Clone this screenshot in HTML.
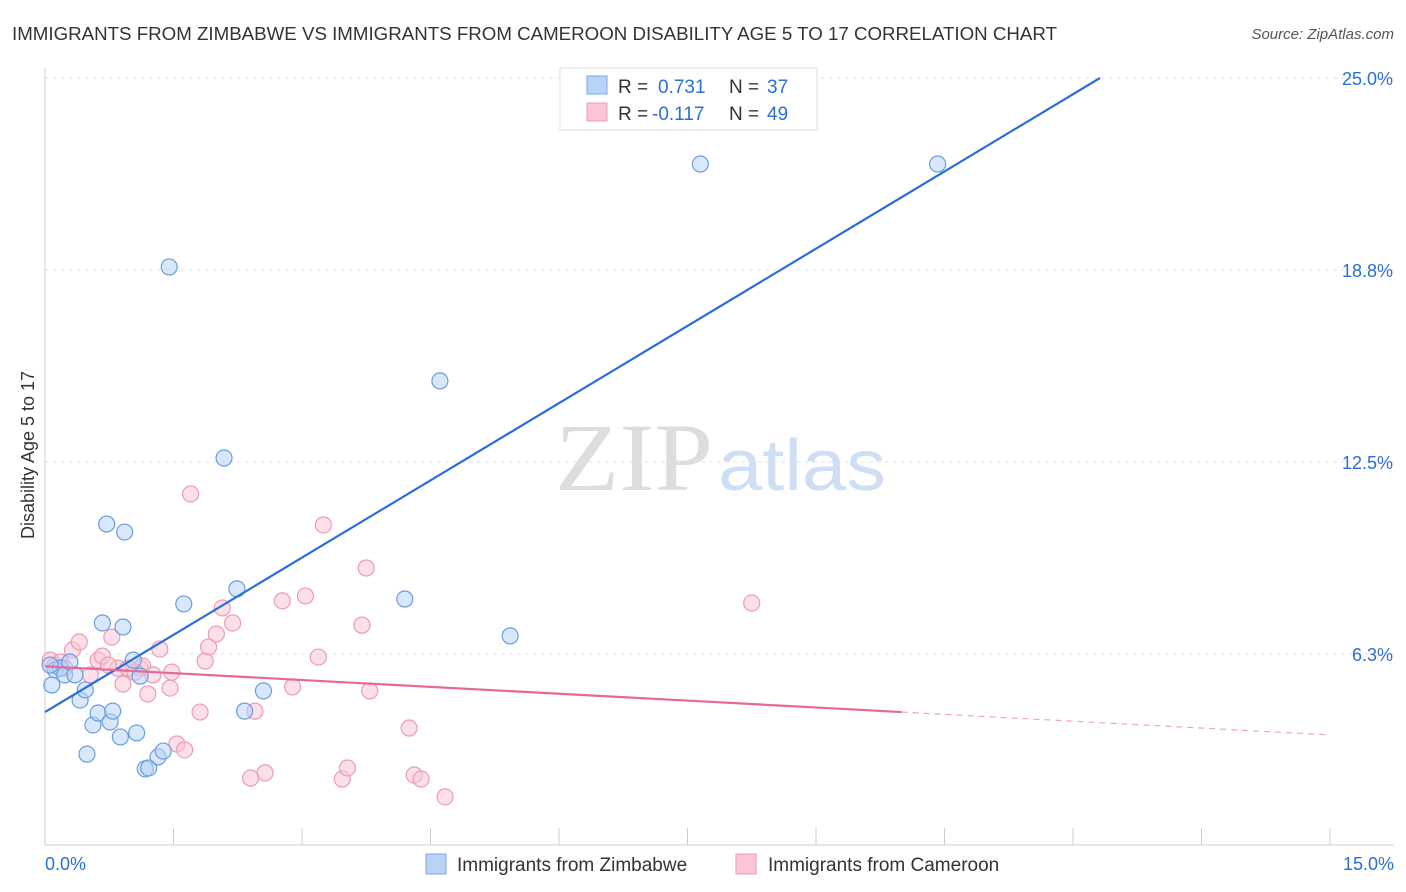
<!DOCTYPE html>
<html><head><meta charset="utf-8">
<style>
body{margin:0;background:#fff;font-family:"Liberation Sans",sans-serif;}
svg{display:block}
</style></head>
<body>
<svg id="c" width="1406" height="892">
<text x="12" y="40" font-size="18" fill="#333" textLength="1045" lengthAdjust="spacingAndGlyphs">IMMIGRANTS FROM ZIMBABWE VS IMMIGRANTS FROM CAMEROON DISABILITY AGE 5 TO 17 CORRELATION CHART</text>
<text x="1394" y="39" font-size="15" fill="#555" font-style="italic" text-anchor="end">Source: ZipAtlas.com</text>
<text x="555" y="490" font-size="96" fill="#ddd" textLength="158" lengthAdjust="spacingAndGlyphs" font-family="Liberation Serif,serif">ZIP</text>
<text x="718" y="490" font-size="72" fill="#cfdff3" textLength="168" lengthAdjust="spacingAndGlyphs">atlas</text>
<text x="34" y="455" font-size="18" fill="#333" text-anchor="middle" transform="rotate(-90 34 455)">Disability Age 5 to 17</text>
<g id="grid"></g><g id="marks"></g>
<g>
<rect x="560" y="68" width="257" height="62" fill="#fff" stroke="#ddd"/>
<rect x="587" y="76" width="20" height="18" fill="#b8d3f5" stroke="#7aa8e6"/>
<rect x="587" y="103" width="20" height="18" fill="#f8c6d6" stroke="#ee9ab5"/>
<text x="618" y="93" font-size="19" fill="#333">R =</text>
<text x="658" y="93" font-size="19" fill="#2a6fd6">0.731</text>
<text x="729" y="93" font-size="19" fill="#333">N =</text>
<text x="767" y="93" font-size="19" fill="#2a6fd6">37</text>
<text x="618" y="120" font-size="19" fill="#333">R =</text>
<text x="652" y="120" font-size="19" fill="#2a6fd6">-0.117</text>
<text x="729" y="120" font-size="19" fill="#333">N =</text>
<text x="767" y="120" font-size="19" fill="#2a6fd6">49</text>
</g>
<g>
<rect x="426" y="854" width="20" height="20" fill="#b8d3f5" stroke="#7aa8e6"/>
<text x="457" y="871" font-size="19" fill="#333">Immigrants from Zimbabwe</text>
<rect x="736" y="854" width="20" height="20" fill="#f8c6d6" stroke="#ee9ab5"/>
<text x="768" y="871" font-size="19" fill="#333">Immigrants from Cameroon</text>
</g>
<text x="45" y="870" font-size="18" fill="#2a6fd6">0.0%</text>
<text x="1394" y="870" font-size="18" fill="#2a6fd6" text-anchor="end">15.0%</text>
</svg>
<script>
const yTicks=[6.25,12.5,18.75,25];
const yTickLabels=["6.3%","12.5%","18.8%","25.0%"];
const blueX=[.08,.12,.18,.23,.29,.35,.41,.47,.49,.56,.62,.67,.72,.76,.79,.88,.91,.93,1.03,1.07,1.11,1.17,1.21,1.32,1.38,1.45,1.62,2.09,2.24,2.33,2.55,4.20,4.61,5.43,7.65,10.42,.06];
const blueY=[5.24,5.73,5.79,5.57,5.99,5.57,4.75,5.08,2.99,3.94,4.33,7.26,10.48,4.04,4.39,3.55,7.13,10.22,6.05,3.68,5.53,2.51,2.54,2.90,3.09,18.85,7.88,12.63,8.37,4.39,5.05,8.04,15.14,6.84,22.2,22.2,5.89];
const pinkX=[.06,.12,.18,.23,.32,.40,.53,.62,.67,.78,.85,.91,.97,1.11,1.14,1.20,1.26,1.34,1.46,1.48,1.54,1.63,1.70,1.81,1.87,1.91,2.00,2.07,2.19,2.40,2.45,2.57,2.77,2.89,3.04,3.19,3.25,3.47,3.53,3.70,3.75,3.79,4.25,4.31,4.39,4.67,8.25,.74,1.05];
const pinkY=[6.05,5.89,5.99,5.79,6.38,6.64,5.57,6.05,6.18,6.80,5.79,5.27,5.79,5.79,5.86,4.95,5.57,6.41,5.14,5.66,3.32,3.13,11.46,4.36,6.02,6.48,6.90,7.75,7.26,2.21,4.39,2.38,7.98,5.18,8.14,6.15,10.45,2.18,2.54,7.19,9.05,5.05,3.84,2.31,2.18,1.60,7.91,5.89,5.66];
const blueFit=[4.36,1.676];
const pinkFit=[5.85,-0.149];
const NS="http://www.w3.org/2000/svg";
const xs=v=>45+v/15*1285, ys=v=>654-(v-6.25)*30.72;
function mk(p,t,a){const e=document.createElementNS(NS,t);for(const k in a)e.setAttribute(k,a[k]);p.appendChild(e);return e;}
const g=document.getElementById('grid'),m=document.getElementById('marks');
yTicks.forEach((t,i)=>{
 const l=mk(g,'line',{x1:45,x2:1394,y1:ys(t),y2:ys(t),stroke:'#e3e3e3','stroke-dasharray':'4,4'});
 
 
 const tx=mk(g,'text',{x:1393,y:ys(t)+7,'font-size':18,fill:'#2a6fd6','text-anchor':'end'});
 tx.textContent=yTickLabels[i];
 
 
});
const ax=mk(g,'line',{x1:45,x2:1394,y1:845,y2:845,stroke:'#ccc'});


const ay=mk(g,'line',{x1:45,x2:45,y1:68,y2:845,stroke:'#ccc'});


for(let i=0;i<=10;i++){const t=mk(g,'line',{x1:xs(i*1.5),x2:xs(i*1.5),y1:828,y2:845,stroke:'#ccc'});
 
 }
function pts(X,Y,f,s,n){X.forEach((x,i)=>{const c=mk(m,'circle',{cx:xs(x),cy:ys(Y[i]),r:8,fill:f,'fill-opacity':0.55,stroke:s,'stroke-width':1.2});
 
 });}
pts(pinkX,pinkY,'#f8c6d6','#ee9ab5','cameroon-point');
pts(blueX,blueY,'#b8d3f5','#6a9de0','zimbabwe-point');
const bxEnd=(25-blueFit[0])/blueFit[1];
const bl=mk(m,'line',{x1:xs(0),y1:ys(blueFit[0]),x2:xs(bxEnd),y2:ys(25),stroke:'#2a6fd6','stroke-width':2.2});


const pl=mk(m,'line',{x1:xs(0),y1:ys(pinkFit[0]),x2:xs(10),y2:ys(pinkFit[0]+pinkFit[1]*10),stroke:'#e8679a','stroke-width':2.2});


const pd=mk(m,'line',{x1:xs(10),y1:ys(pinkFit[0]+pinkFit[1]*10),x2:xs(15),y2:ys(pinkFit[0]+pinkFit[1]*15),stroke:'#e8679a','stroke-width':1.2,'stroke-dasharray':'6,5','stroke-opacity':0.6});


</script>
</body></html>
